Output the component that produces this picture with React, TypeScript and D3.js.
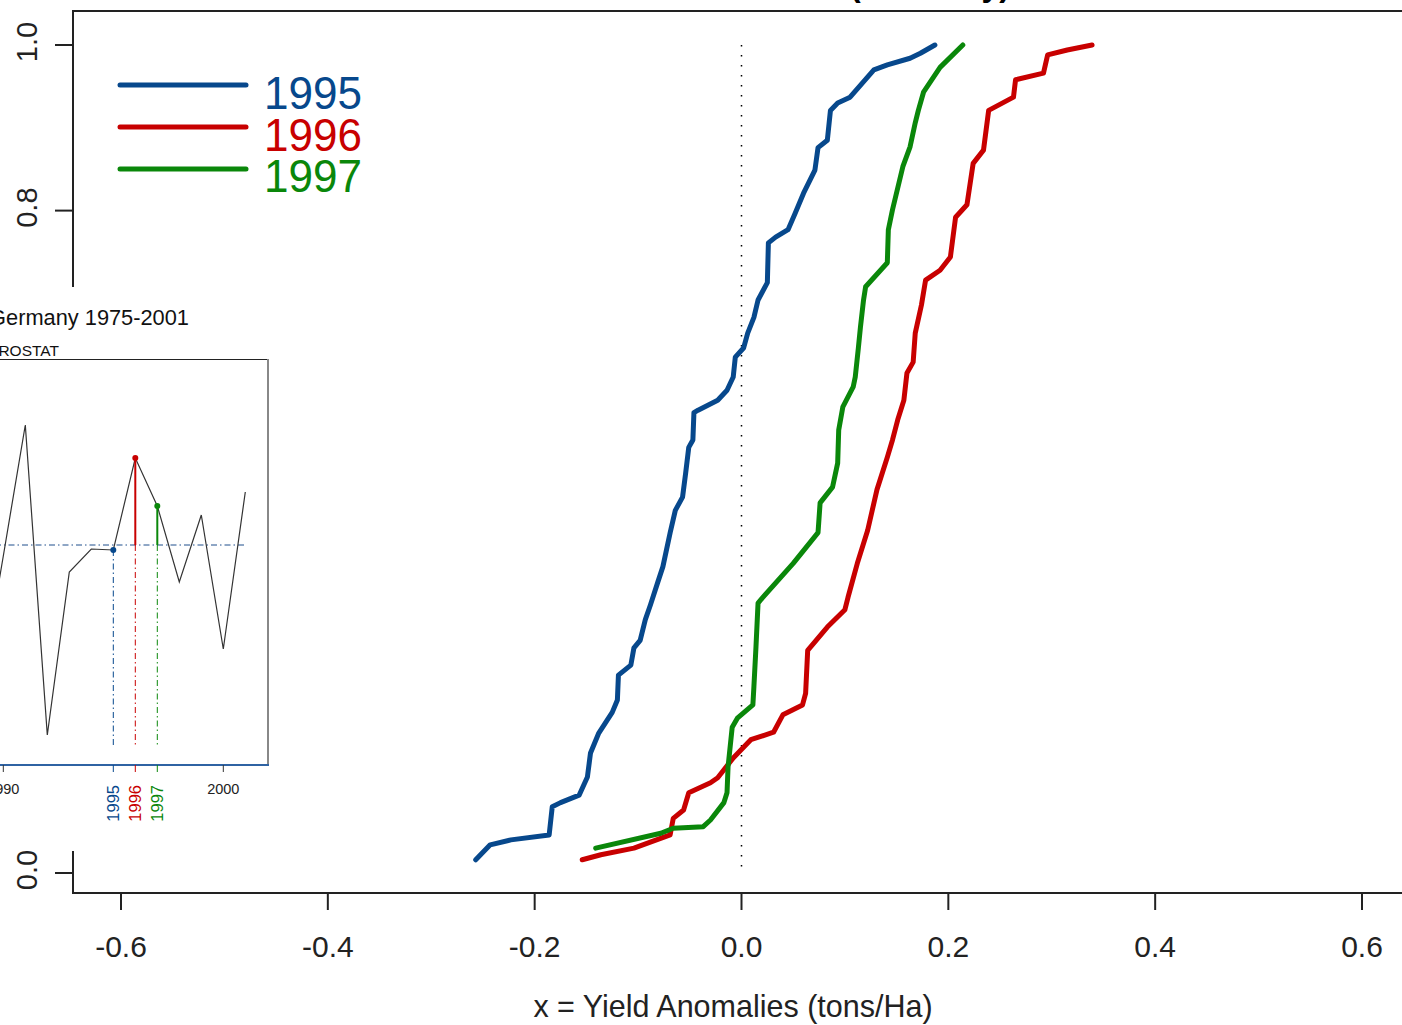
import React from "react";
import * as d3 from "d3";

// ---- main chart data: ECDF curves (x = anomaly, F = cumulative prob.)
const x1995 = [-0.257,-0.243,-0.223,-0.186,-0.183,-0.175,-0.157,-0.149,-0.146,-0.138,-0.125,-0.120,-0.119,-0.107,-0.104,-0.098,-0.093,-0.088,-0.081,-0.076,-0.069,-0.064,-0.057,-0.054,-0.051,-0.047,-0.046,-0.042,-0.023,-0.014,-0.008,-0.006,0.002,0.006,0.012,0.016,0.025,0.026,0.033,0.045,0.052,0.060,0.071,0.074,0.083,0.086,0.093,0.105,0.128,0.141,0.163,0.173,0.187];
const f1995 = [0.016,0.034,0.040,0.046,0.080,0.085,0.094,0.116,0.145,0.169,0.194,0.209,0.239,0.251,0.272,0.281,0.306,0.324,0.351,0.370,0.411,0.438,0.454,0.483,0.514,0.523,0.556,0.559,0.571,0.583,0.599,0.623,0.634,0.652,0.671,0.692,0.713,0.761,0.768,0.777,0.797,0.821,0.849,0.876,0.885,0.921,0.930,0.937,0.970,0.976,0.984,0.990,1.000];

const x1996 = [-0.154,-0.136,-0.104,-0.069,-0.066,-0.056,-0.051,-0.030,-0.023,-0.008,0.009,0.031,0.040,0.059,0.062,0.064,0.083,0.100,0.103,0.112,0.122,0.131,0.141,0.146,0.151,0.157,0.160,0.166,0.168,0.174,0.178,0.192,0.202,0.207,0.218,0.224,0.234,0.239,0.263,0.265,0.292,0.296,0.315,0.339];
const f1996 = [0.016,0.022,0.030,0.046,0.066,0.076,0.097,0.109,0.115,0.139,0.161,0.170,0.191,0.203,0.217,0.269,0.297,0.318,0.333,0.374,0.414,0.463,0.502,0.523,0.547,0.571,0.604,0.617,0.652,0.686,0.716,0.728,0.744,0.792,0.807,0.857,0.873,0.921,0.937,0.958,0.966,0.988,0.994,1.000];

const x1997 = [-0.141,-0.078,-0.066,-0.037,-0.030,-0.017,-0.014,-0.013,-0.009,-0.004,0.011,0.012,0.014,0.016,0.020,0.050,0.074,0.076,0.088,0.093,0.094,0.098,0.108,0.110,0.113,0.115,0.118,0.120,0.141,0.142,0.146,0.156,0.163,0.168,0.171,0.176,0.192,0.214];
const f1997 = [0.030,0.048,0.054,0.056,0.064,0.085,0.097,0.128,0.176,0.187,0.203,0.225,0.273,0.326,0.332,0.374,0.411,0.447,0.466,0.495,0.535,0.563,0.587,0.599,0.634,0.659,0.692,0.708,0.737,0.777,0.801,0.853,0.877,0.906,0.921,0.943,0.973,1.000];

const seriesNames = ["1995", "1996", "1997"];
const seriesColors = ["#07488c", "#c80000", "#0a870a"];

const xTicks = [-0.6, -0.4, -0.2, 0.0, 0.2, 0.4, 0.6];
const yTicks = [0.0, 0.2, 0.4, 0.6, 0.8, 1.0];

// ---- inset data: Germany yield anomalies (visible years)
const insetYears = [1989, 1990, 1991, 1992, 1993, 1994, 1995, 1996, 1997, 1998, 1999, 2000, 2001];
const insetValues = [-0.282, -0.022, 0.240, -0.380, -0.054, -0.008, -0.010, 0.174, 0.078, -0.074, 0.060, -0.208, 0.106];
const insetTicks = [1990, 2000];
const highlightYears = [1995, 1996, 1997];

const W = 1402;
const H = 1025;

export default function App() {
  const x = d3.scaleLinear().domain([-0.6, 0.6]).range([121, 1362]);
  const y = d3.scaleLinear().domain([0, 1]).range([873, 45]);

  const xs = [x1995, x1996, x1997];
  const fs = [f1995, f1996, f1997];
  const line = d3
    .line<[number, number]>()
    .x((d) => x(d[0]))
    .y((d) => y(d[1]));

  // inset scales
  const ix = d3.scaleLinear().domain([1995, 2001]).range([113.3, 245.3]);
  const iy = d3.scaleLinear().domain([0, 1]).range([545, 45]);
  const iline = d3
    .line<number>()
    .x((_, i) => ix(insetYears[i]))
    .y((d) => iy(d));

  const font = "'Liberation Sans', Arial, Helvetica, sans-serif";
  const dashDot = "6,3,1.5,3";

  return (
    <svg
      width={W}
      height={H}
      style={{ position: "absolute", left: 0, top: 0, background: "#fff" }}
      fontFamily={font}
    >
      <rect x={0} y={0} width={W} height={H} fill="#fff" />
      {/* cut-off title */}
      <text x={1010} y={-4} textAnchor="end" fontSize={32} fontWeight="bold" fill="#000">
        Yield Anomalies (Germany)
      </text>

      {/* plot box */}
      <rect x={73} y={11} width={W + 20} height={882} fill="none" stroke="#222" strokeWidth={2} />

      {/* x axis ticks */}
      {xTicks.map((t) => (
        <g key={"xt" + t}>
          <line x1={x(t)} x2={x(t)} y1={893} y2={910} stroke="#222" strokeWidth={2} />
          <text x={x(t)} y={957} textAnchor="middle" fontSize={30} fill="#222">
            {t.toFixed(1)}
          </text>
        </g>
      ))}
      <text x={733} y={1017} textAnchor="middle" fontSize={30.5} fill="#222">
        x = Yield Anomalies (tons/Ha)
      </text>

      {/* y axis ticks */}
      {yTicks.map((t) => (
        <g key={"yt" + t}>
          <line x1={55} x2={73} y1={y(t)} y2={y(t)} stroke="#222" strokeWidth={2} />
          <text
            transform={`translate(37,${y(t) - 3}) rotate(-90)`}
            textAnchor="middle"
            fontSize={29}
            fill="#222"
          >
            {t.toFixed(1)}
          </text>
        </g>
      ))}

      {/* zero reference dotted line */}
      <line
        x1={x(0)}
        x2={x(0)}
        y1={y(1)}
        y2={y(0)}
        stroke="#000"
        strokeWidth={1.5}
        strokeDasharray="1.5,8.5"
      />

      {/* ECDF curves */}
      {xs.map((xv, k) => (
        <path
          key={"c" + k}
          d={line(xv.map((v, i) => [v, fs[k][i]] as [number, number])) || ""}
          fill="none"
          stroke={seriesColors[k]}
          strokeWidth={5}
          strokeLinejoin="round"
          strokeLinecap="round"
        />
      ))}

      {/* legend */}
      {seriesNames.map((n, k) => (
        <g key={"lg" + n}>
          <line
            x1={120}
            x2={246}
            y1={85 + k * 42}
            y2={85 + k * 42}
            stroke={seriesColors[k]}
            strokeWidth={5}
            strokeLinecap="round"
          />
          <text
            x={264}
            y={109 + k * 41.5}
            fontSize={47}
            fill={seriesColors[k]}
            textLength={98}
            lengthAdjust="spacingAndGlyphs"
          >
            {n}
          </text>
        </g>
      ))}

      {/* inset */}
      <rect x={-10} y={287} width={294} height={564} fill="#fff" />
      <text x={189} y={325} textAnchor="end" fontSize={21.8} fill="#111">
        Germany 1975-2001
      </text>
      <text x={59} y={356} textAnchor="end" fontSize={15.5} fill="#111">
        EUROSTAT
      </text>
      {/* inset frame */}
      <line x1={-5} x2={268} y1={359.5} y2={359.5} stroke="#222" strokeWidth={1} />
      <line x1={268} x2={268} y1={359} y2={765} stroke="#888" strokeWidth={2} />
      <line x1={-5} x2={269} y1={765} y2={765} stroke="#2f63a3" strokeWidth={2} />

      {/* zero line */}
      <line
        x1={-5}
        x2={ix(2001)}
        y1={iy(0)}
        y2={iy(0)}
        stroke="#1f4e8c"
        strokeWidth={1}
        strokeDasharray={dashDot}
      />
      {/* year series */}
      <path d={iline(insetValues) || ""} fill="none" stroke="#333" strokeWidth={1.2} />

      {/* highlighted years */}
      {highlightYears.map((yr, k) => {
        const v = insetValues[insetYears.indexOf(yr)];
        const px = ix(yr);
        return (
          <g key={"hy" + yr}>
            <line
              x1={px}
              x2={px}
              y1={Math.max(iy(v), iy(0))}
              y2={747}
              stroke={seriesColors[k]}
              strokeWidth={1}
              strokeDasharray={dashDot}
            />
            {v > 0 && (
              <line x1={px} x2={px} y1={iy(v)} y2={iy(0)} stroke={seriesColors[k]} strokeWidth={2} />
            )}
            <circle cx={px} cy={iy(v)} r={3} fill={seriesColors[k]} />
            <line x1={px} x2={px} y1={765} y2={772} stroke={seriesColors[k]} strokeWidth={1} />
            <text
              transform={`translate(${px + 6},785) rotate(-90)`}
              textAnchor="end"
              fontSize={16.5}
              fill={seriesColors[k]}
            >
              {yr}
            </text>
          </g>
        );
      })}
      {insetTicks.map((t) => (
        <g key={"it" + t}>
          <line x1={ix(t)} x2={ix(t)} y1={765} y2={772} stroke="#333" strokeWidth={1} />
          <text x={ix(t)} y={794} textAnchor="middle" fontSize={14.5} fill="#222">
            {t}
          </text>
        </g>
      ))}
    </svg>
  );
}
